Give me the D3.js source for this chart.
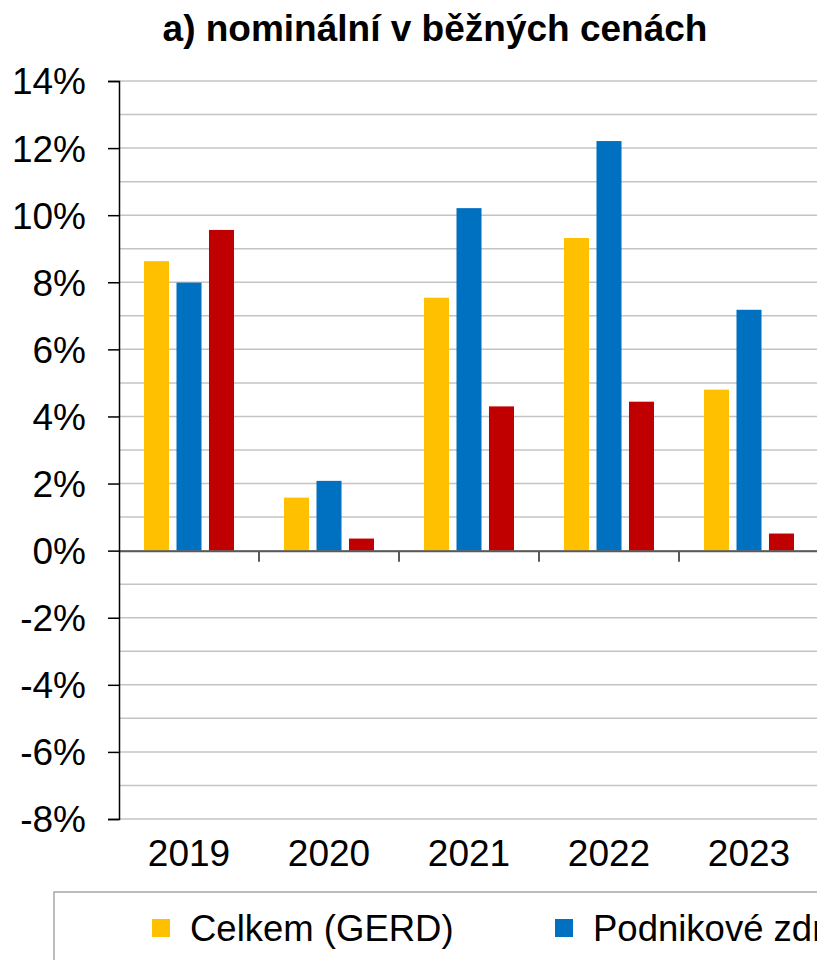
<!DOCTYPE html>
<html>
<head>
<meta charset="utf-8">
<script src="https://cdn.jsdelivr.net/npm/d3@7"></script>
<style>
  body { margin: 0; background: #fff; }
  svg { display: block; font-family: 'Liberation Sans', Arial, sans-serif; }
</style>
</head>
<body>
<div id="chart"></div>
<script>
let years = ['2019', '2020', '2021', '2022', '2023']
let seriesNames = ['Celkem (GERD)', 'Podnikové zdroje', 'Veřejné zdroje']
let celkem = [8.63, 1.58, 7.54, 9.32, 4.8]
let podnikove = [7.99, 2.08, 10.21, 12.21, 7.18]
let verejne = [9.56, 0.36, 4.3, 4.44, 0.51]
let colors = ['#ffc000', '#0070c0', '#c00000']
let yTicks = [-8, -6, -4, -2, 0, 2, 4, 6, 8, 10, 12, 14]

let width = 817
let height = 960
let margin = { top: 81, left: 119, right: -2, bottom: 141 }

let svg = d3.select('#chart')
  .append('svg')
  .attr('width', width)
  .attr('height', height)

let x = d3.scaleBand()
  .domain(years)
  .range([margin.left, width - margin.right])

let xSeries = d3.scaleBand()
  .domain(seriesNames)
  .range([25, x.bandwidth() - 25])
  .paddingInner(0.23)

let y = d3.scaleLinear()
  .domain([-8, 14])
  .range([height - margin.bottom, margin.top])

// gridlines every 1%
svg.append('g')
  .selectAll('line')
  .data(d3.range(-8, 15, 1))
  .enter()
  .append('line')
  .attr('x1', margin.left)
  .attr('x2', width - margin.right)
  .attr('y1', d => y(d))
  .attr('y2', d => y(d))
  .attr('stroke', '#c4c4c4')
  .attr('stroke-width', 1.5)

// bars
let rows = years.map((yr, i) => ({
  year: yr,
  values: [celkem[i], podnikove[i], verejne[i]]
}))

svg.append('g')
  .selectAll('g')
  .data(rows)
  .enter()
  .append('g')
  .attr('transform', d => `translate(${x(d.year)},0)`)
  .selectAll('rect')
  .data(d => d.values.map((v, j) => ({ name: seriesNames[j], value: v, color: colors[j] })))
  .enter()
  .append('rect')
  .attr('x', d => xSeries(d.name))
  .attr('width', xSeries.bandwidth())
  .attr('y', d => y(Math.max(0, d.value)))
  .attr('height', d => Math.abs(y(d.value) - y(0)))
  .attr('fill', d => d.color)

// zero axis with category ticks
let xAxis = svg.append('g')
  .attr('transform', `translate(0,${y(0)})`)
  .call(d3.axisBottom(x).tickSize(0).tickFormat(''))
xAxis.select('.domain').attr('stroke', '#595959').attr('stroke-width', 2)

svg.append('g')
  .selectAll('line')
  .data(years.slice(1))
  .enter()
  .append('line')
  .attr('x1', d => x(d))
  .attr('x2', d => x(d))
  .attr('y1', y(0))
  .attr('y2', y(0) + 11)
  .attr('stroke', '#595959')
  .attr('stroke-width', 2)

// year labels
svg.append('g')
  .selectAll('text')
  .data(years)
  .enter()
  .append('text')
  .text(d => d)
  .attr('x', d => x(d) + x.bandwidth() / 2)
  .attr('y', 866)
  .attr('text-anchor', 'middle')
  .attr('font-size', 37)
  .attr('fill', '#000')

// y axis
let yAxis = svg.append('g')
  .attr('transform', `translate(${margin.left},0)`)
  .call(d3.axisLeft(y).tickValues(yTicks).tickSize(11).tickPadding(22).tickFormat(d => d + '%'))
yAxis.select('.domain').attr('stroke', '#000').attr('stroke-width', 1.5)
yAxis.selectAll('.tick line').attr('stroke', '#000').attr('stroke-width', 1.5)
yAxis.selectAll('.tick text')
  .attr('font-size', 37)
  .attr('dy', '0.35em')
  .attr('font-family', "'Liberation Sans', Arial, sans-serif")
  .attr('fill', '#000')

// title
svg.append('text')
  .text('a) nominální v běžných cenách')
  .attr('x', 435)
  .attr('y', 41)
  .attr('text-anchor', 'middle')
  .attr('font-size', 37)
  .attr('font-weight', 'bold')
  .attr('fill', '#000')

// legend (the frame runs past the right and bottom edges, as in the original)
let legend = svg.append('g')
legend.append('rect')
  .attr('x', 54)
  .attr('y', 892)
  .attr('width', 1000)
  .attr('height', 200)
  .attr('fill', 'none')
  .attr('stroke', '#a6a6a6')
  .attr('stroke-width', 1.5)

let legendX = [152, 555]
let items = legend.selectAll('g.item')
  .data(seriesNames.slice(0, legendX.length))
  .enter()
  .append('g')
  .attr('class', 'item')
  .attr('transform', (d, i) => `translate(${legendX[i]},0)`)
items.append('rect')
  .attr('x', 0)
  .attr('y', 919)
  .attr('width', 18)
  .attr('height', 18)
  .attr('fill', (d, i) => colors[i])
items.append('text')
  .text(d => d)
  .attr('x', 38)
  .attr('y', 941)
  .attr('font-size', 36.5)
  .attr('fill', '#000')
</script>
</body>
</html>
